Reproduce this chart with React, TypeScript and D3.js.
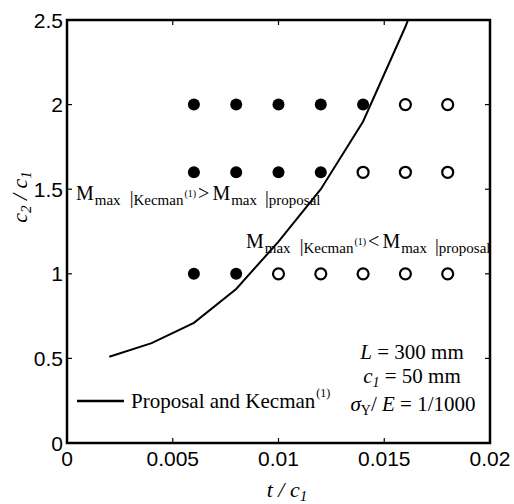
import React from "react";
import * as d3 from "d3";

const xTicks = [0, 0.005, 0.01, 0.015, 0.02];
const xTickLabels = ["0", "0.005", "0.01", "0.015", "0.02"];
const yTicks = [0, 0.5, 1, 1.5, 2, 2.5];
const yTickLabels = ["0", "0.5", "1", "1.5", "2", "2.5"];

// Proposal and Kecman boundary curve
const curveT = [0.002, 0.004, 0.006, 0.008, 0.01, 0.012, 0.014, 0.016, 0.018];
const curveC = [0.51, 0.59, 0.71, 0.91, 1.19, 1.5, 1.9, 2.46, 3.1];

// Evaluated cases
const dotT = [0.006, 0.008, 0.01, 0.012, 0.014, 0.016, 0.018];
const rowC = [1, 1.6, 2];
// true = filled (Kecman > proposal), false = open
const row1Filled = [true, true, false, false, false, false, false];
const row16Filled = [true, true, true, true, false, false, false];
const row2Filled = [true, true, true, true, true, false, false];
const rowFilled = [row1Filled, row16Filled, row2Filled];

const SERIF = "'Liberation Serif', 'Times New Roman', Times, serif";
const SANS = "'Liberation Sans', Arial, Helvetica, sans-serif";

const W = 514;
const H = 504;
const L = 67, R = 490, T = 20, B = 443;

function MAnnot({ x, y, op }: { x: number; y: number; op: string }) {
  return (
    <text x={x} y={y} fontFamily={SERIF} fill="#000">
      <tspan fontSize={20}>M</tspan>
      <tspan fontSize={15} dx={1} dy={5}>max</tspan>
      <tspan fontSize={19} dx={9} dy={-1}>|</tspan>
      <tspan fontSize={15} dy={1}>Kecman</tspan>
      <tspan fontSize={10} dx={1} dy={-8}>(1)</tspan>
      <tspan fontSize={20} dx={2} dy={3}>{op}</tspan>
      <tspan fontSize={20} dx={3}>M</tspan>
      <tspan fontSize={15} dx={1} dy={5}>max</tspan>
      <tspan fontSize={19} dx={8} dy={-1}>|</tspan>
      <tspan fontSize={15} dy={1}>proposal</tspan>
    </text>
  );
}

export default function App() {
  const x = d3.scaleLinear().domain([0, 0.02]).range([L, R]);
  const y = d3.scaleLinear().domain([0, 2.5]).range([B, T]);
  const line = d3
    .line<number>()
    .x((_, i) => x(curveT[i]))
    .y((d) => y(d));
  const path = line(curveC) || "";
  const tick = 5;

  return (
    <svg
      width={W}
      height={H}
      style={{ position: "absolute", left: 0, top: 0, background: "#fff" }}
    >
      <defs>
        <clipPath id="plotclip">
          <rect x={L} y={T} width={R - L} height={B - T} />
        </clipPath>
      </defs>
      <rect x={0} y={0} width={W} height={H} fill="#fff" />

      {/* curve */}
      <path
        d={path}
        fill="none"
        stroke="#000"
        strokeWidth={2}
        clipPath="url(#plotclip)"
      />

      {/* dots */}
      {rowC.map((c, ri) =>
        dotT.map((t, i) =>
          rowFilled[ri][i] ? (
            <circle key={`d${ri}-${i}`} cx={x(t)} cy={y(c)} r={6} fill="#000" />
          ) : (
            <circle
              key={`d${ri}-${i}`}
              cx={x(t)}
              cy={y(c)}
              r={5.5}
              fill="#fff"
              stroke="#000"
              strokeWidth={2.2}
            />
          )
        )
      )}

      {/* ticks inward */}
      {xTicks.map((v, i) => (
        <g key={`xt${i}`}>
          <line x1={x(v)} x2={x(v)} y1={B} y2={B - tick} stroke="#000" strokeWidth={1.2} />
          <line x1={x(v)} x2={x(v)} y1={T} y2={T + tick} stroke="#000" strokeWidth={1.2} />
          <text
            x={x(v)}
            y={466}
            textAnchor="middle"
            fontFamily={SANS}
            fontSize={21}
            fill="#000"
          >
            {xTickLabels[i]}
          </text>
        </g>
      ))}
      {yTicks.map((v, i) => (
        <g key={`yt${i}`}>
          <line x1={L} x2={L + tick} y1={y(v)} y2={y(v)} stroke="#000" strokeWidth={1.2} />
          <line x1={R} x2={R - tick} y1={y(v)} y2={y(v)} stroke="#000" strokeWidth={1.2} />
          <text
            x={63}
            y={y(v)}
            dy="0.36em"
            textAnchor="end"
            fontFamily={SANS}
            fontSize={21}
            fill="#000"
          >
            {yTickLabels[i]}
          </text>
        </g>
      ))}

      {/* frame */}
      <rect
        x={L}
        y={T}
        width={R - L}
        height={B - T}
        fill="none"
        stroke="#000"
        strokeWidth={2.5}
      />

      {/* annotations */}
      <MAnnot x={76} y={200} op=">" />
      <MAnnot x={246} y={248} op="<" />

      {/* parameter block */}
      <text x={412} y={359} textAnchor="middle" fontFamily={SERIF} fontSize={21} fill="#000">
        <tspan fontStyle="italic">L</tspan>
        <tspan> = 300 mm</tspan>
      </text>
      <text x={412} y={383} textAnchor="middle" fontFamily={SERIF} fontSize={21} fill="#000">
        <tspan fontStyle="italic">c</tspan>
        <tspan fontStyle="italic" fontSize={14} dy={4}>1</tspan>
        <tspan dy={-4}> = 50 mm</tspan>
      </text>
      <text x={413} y={411} textAnchor="middle" fontFamily={SERIF} fontSize={21} fill="#000">
        <tspan fontStyle="italic">σ</tspan>
        <tspan fontSize={14} dy={4}>Y</tspan>
        <tspan dy={-4}>/ </tspan>
        <tspan fontStyle="italic">E</tspan>
        <tspan> = 1/1000</tspan>
      </text>

      {/* legend */}
      <line x1={77} x2={124} y1={401} y2={401} stroke="#000" strokeWidth={2.5} />
      <text x={131} y={408} fontFamily={SERIF} fontSize={21} fill="#000">
        <tspan>Proposal and Kecman</tspan>
        <tspan fontSize={12} dx={1} dy={-11}>(1)</tspan>
      </text>

      {/* axis titles */}
      <text x={287} y={497} textAnchor="middle" fontFamily={SERIF} fontSize={22} fontStyle="italic" fill="#000">
        <tspan>t / c</tspan>
        <tspan fontSize={15} dy={4}>1</tspan>
      </text>
      <text
        transform="translate(27,197) rotate(-90)"
        textAnchor="middle"
        fontFamily={SERIF}
        fontSize={22}
        fontStyle="italic"
        fill="#000"
      >
        <tspan>c</tspan>
        <tspan fontSize={15} dy={4}>2</tspan>
        <tspan dy={-4}> / c</tspan>
        <tspan fontSize={15} dy={4}>1</tspan>
      </text>
    </svg>
  );
}
